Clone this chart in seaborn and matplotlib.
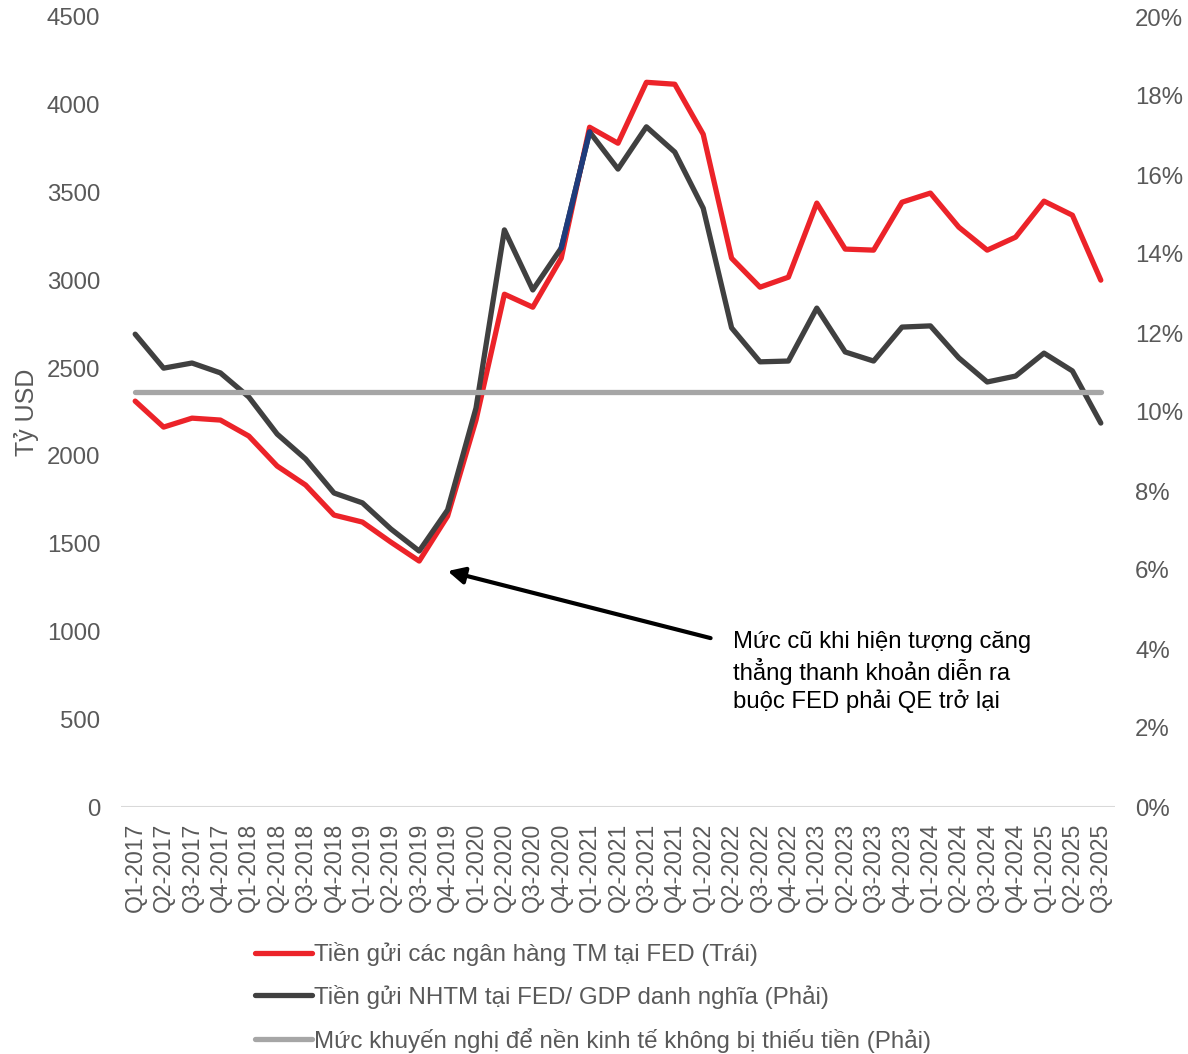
import numpy as np
import pandas as pd
import matplotlib
matplotlib.use("Agg")
import matplotlib.pyplot as plt
import seaborn as sns
from matplotlib.lines import Line2D

quarters = [f"Q{q}-{y}" for y in range(2017, 2026) for q in range(1, 5)][:35]

deposits_busd = [2312, 2164, 2215, 2204, 2113, 1942, 1834, 1663, 1623, 1509,
                 1401, 1657, 2204, 2921, 2847, 3126, 3872, 3781, 4128, 4117,
                 3832, 3126, 2961, 3018, 3440, 3178, 3172, 3445, 3497, 3303,
                 3172, 3246, 3451, 3371, 3001]

deposits_gdp_pct = [11.97, 11.11, 11.24, 10.99, 10.38, 9.44, 8.81, 7.95, 7.70, 7.04,
                    6.48, 7.52, 10.10, 14.61, 13.09, 14.15, 17.09, 16.15, 17.22, 16.58,
                    15.16, 12.13, 11.27, 11.29, 12.63, 11.52, 11.29, 12.15, 12.18, 11.37,
                    10.76, 10.91, 11.49, 11.04, 9.72]

recommended_pct = [10.5] * 35

left_ticks = list(range(0, 4501, 500))
right_ticks = list(range(0, 21, 2))

labels = ["Tiền gửi các ngân hàng TM tại FED (Trái)",
          "Tiền gửi NHTM tại FED/ GDP danh nghĩa (Phải)",
          "Mức khuyến nghị để nền kinh tế không bị thiếu tiền (Phải)"]
annotation_text = "Mức cũ khi hiện tượng căng\nthẳng thanh khoản diễn ra\nbuộc FED phải QE trở lại"

sns.set_theme(style="white")
plt.rcParams["font.family"] = ["Liberation Sans", "DejaVu Sans"]

RED = "#EC2329"
DARK = "#404040"
GRAY = "#A6A6A6"
NAVY = "#1F3C7C"
TXT = "#595959"

df = pd.DataFrame({"x": np.arange(35), "q": quarters, "dep": deposits_busd,
                   "pct": deposits_gdp_pct, "rec": recommended_pct})

fig = plt.figure(figsize=(11.88, 10.54), dpi=100)
ax = fig.add_axes([121/1188, 1-807/1054, (1115-121)/1188, (807-17)/1054])
ax2 = ax.twinx()

lw = 3.8
sns.lineplot(data=df, x="x", y="dep", ax=ax, color=RED, lw=lw, zorder=2)
ax.set_zorder(1)
ax2.set_zorder(2)
ax2.patch.set_visible(False)
sns.lineplot(data=df, x="x", y="pct", ax=ax2, color=DARK, lw=lw, zorder=2)
seg = df.iloc[15:17]
sns.lineplot(data=seg, x="x", y="pct", ax=ax2, color=NAVY, lw=lw, zorder=3)
sns.lineplot(data=df, x="x", y="rec", ax=ax2, color=GRAY, lw=lw, zorder=4)

ax.set_xlim(-0.5, 34.5)
ax.set_ylim(0, 4500)
ax2.set_ylim(0, 20)
ax.set_yticks(left_ticks)
ax.set_yticklabels([str(v) for v in left_ticks])
ax2.set_yticks(right_ticks)
ax2.set_yticklabels([f"{v}%" for v in right_ticks])
ax.set_xticks(np.arange(35))
ax.set_xticklabels(quarters, rotation=90)
ax.set_xlabel("")
ax2.set_xlabel("")
ax2.set_ylabel("")
ax.set_ylabel("Tỷ USD", fontsize=18, color=TXT)
ax.yaxis.set_label_coords(-0.082, 0.5)

ax.tick_params(axis="y", length=0, pad=15, labelsize=17.3, labelcolor=TXT)
ax2.tick_params(axis="y", length=0, pad=14.5, labelsize=17.3, labelcolor=TXT)
ax.tick_params(axis="x", length=0, pad=11, labelsize=16.6, labelcolor=TXT)

for a in (ax, ax2):
    for s in ["top", "right", "left", "bottom"]:
        a.spines[s].set_visible(False)
    a.grid(False)
ax.axhline(0, color="#D9D9D9", lw=1.5, zorder=0)

ax.annotate("", xy=(11.0, 1344), xytext=(20.26, 962),
            arrowprops=dict(arrowstyle="-|>", lw=3, color="black", mutation_scale=25,
                            shrinkA=0, shrinkB=0), zorder=5)
ax.text(21.05, 1001, annotation_text, fontsize=17.2, color="black", va="top", ha="left",
        linespacing=1.22, zorder=5)

handles = [Line2D([], [], color=c, lw=lw) for c in (RED, DARK, GRAY)]
fig.legend(handles, labels, loc="upper left", bbox_to_anchor=(255/1188, 1-942/1054),
           frameon=False, fontsize=17.4, labelcolor=TXT, handlelength=2.35,
           handletextpad=0.08, labelspacing=0.78, borderaxespad=0, borderpad=0)

fig.savefig("out.png", dpi=100)
